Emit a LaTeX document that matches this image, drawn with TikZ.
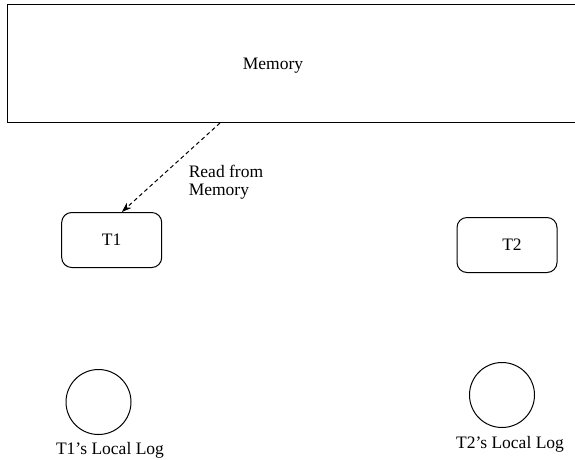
\documentclass[tikz,border=0pt]{standalone}
\usepackage{fontspec}
\setmainfont{Liberation Serif}
\usetikzlibrary{calc,positioning}
\usetikzlibrary{shapes}
\usetikzlibrary{arrows.meta}

\begin{document}
\begin{tikzpicture}[x=1pt, y=-1pt, font=\fontsize{17.5}{18.5}\selectfont, line width=1pt,
		mem/.style = {draw, rectangle, minimum width=583pt, minimum height=118pt},
		task/.style = {draw, rectangle, rounded corners=10pt, minimum width=100pt, minimum height=55pt},
		logc/.style = {draw, circle, minimum size=65pt, inner sep=0pt}]
		\useasboundingbox (0,0) rectangle (575,459);
		\node[mem] (mem) at (298.5,63.5) {};
		\node[anchor=base] (memtxt) at (273,69) {Memory};
		\node[task] (t1) at (111.7,240) {T1};
		\node[task] (t2) at (507,245) {\hspace{10pt}T2};
		\node[logc] (log1) at (98.5,402) {};
		\node[logc] (log2) at (502,395) {};
		\node[anchor=base] (lab1) at ($(log1.south)+(11.5,19)$) {T1's Local Log};
		\node[anchor=base] (lab2) at ($(log2.south)+(8,20)$) {T2's Local Log};
		\node[align=left, anchor=north west, inner sep=0pt] (rd) at (188.3,164.5) {Read from\\Memory};
		\draw[dash pattern=on 4pt off 3pt, -{Stealth[length=10pt, width=7pt]}] ($(mem.south west)+(213.5,0)$) -- ($(t1.north west)!0.6!(t1.north east)$);
	\end{tikzpicture}
\end{document}
